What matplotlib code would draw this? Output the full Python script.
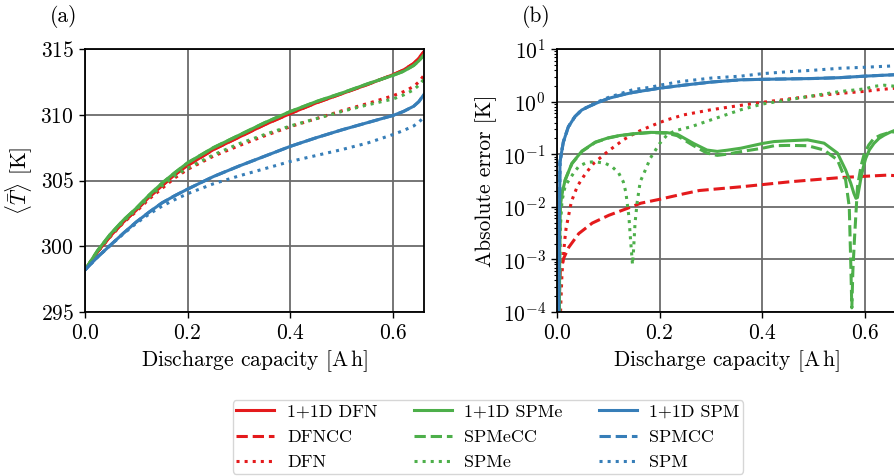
import matplotlib
matplotlib.use("Agg")
import matplotlib.pyplot as plt
from matplotlib.ticker import LogLocator, NullFormatter

plt.rcParams.update({
    "font.family": "serif",
    "font.serif": ["cmr10"],
    "mathtext.fontset": "cm",
    "axes.formatter.use_mathtext": True,
    "font.size": 15.5,
    "axes.unicode_minus": True,
})

RED = "#e41a1c"
GREEN = "#4daf4a"
BLUE = "#377eb8"

# ---- (a) volume-averaged cell temperature [K] ----
cap_a = [0.0, 0.025, 0.05, 0.075, 0.1, 0.125, 0.15, 0.175, 0.2, 0.25, 0.3,
         0.35, 0.4, 0.45, 0.5, 0.55, 0.6, 0.62, 0.64, 0.65, 0.66]
T_dfn11 = [298.2, 299.6, 300.8, 301.85, 302.75, 303.75, 304.6, 305.45, 306.15,
           307.35, 308.3, 309.25, 310.1, 310.9, 311.6, 312.3, 313.05, 313.4,
           313.9, 314.3, 314.8]
T_spme11 = [298.2, 299.7, 300.95, 302.0, 302.9, 303.9, 304.8, 305.6, 306.35,
            307.5, 308.45, 309.4, 310.25, 311.0, 311.65, 312.35, 313.0, 313.3,
            313.75, 314.1, 314.55]
T_spm11 = [298.2, 299.2, 300.1, 301.0, 301.85, 302.6, 303.3, 303.85, 304.35,
           305.3, 306.1, 306.85, 307.6, 308.25, 308.85, 309.4, 309.95, 310.25,
           310.65, 311.0, 311.55]
T_dfn = [298.2, 299.6, 300.75, 301.8, 302.65, 303.6, 304.4, 305.2, 305.85,
         306.85, 307.65, 308.4, 309.1, 309.7, 310.3, 310.85, 311.45, 311.75,
         312.15, 312.5, 313.0]
T_spme = [298.2, 299.65, 300.85, 301.9, 302.8, 303.75, 304.6, 305.35, 305.95,
          306.95, 307.8, 308.5, 309.15, 309.7, 310.25, 310.75, 311.2, 311.5,
          311.9, 312.25, 312.7]
T_spm = [298.2, 299.2, 300.1, 300.95, 301.75, 302.45, 303.05, 303.55, 304.0,
         304.75, 305.35, 305.9, 306.45, 306.9, 307.35, 307.85, 308.5, 308.8,
         309.15, 309.45, 309.8]
# the current-collector models coincide with their 1+1D counterparts here
T_dfncc = T_dfn11
T_spmecc = T_spme11
T_spmcc = T_spm11

# ---- (b) absolute error against 1+1D DFN [K] ----
cap_dfncc = [0.004, 0.005, 0.0065, 0.013, 0.0229, 0.0424, 0.0686, 0.101, 0.134,
             0.163, 0.2, 0.245, 0.277, 0.358, 0.455, 0.553, 0.643, 0.66]
err_dfncc = [5e-5, 0.00025, 0.00063, 0.00105, 0.0017, 0.0031, 0.0049, 0.0069,
             0.0091, 0.0117, 0.0139, 0.0175, 0.0204, 0.024, 0.030, 0.036,
             0.040, 0.039]

cap_dfn = [0.006, 0.0075, 0.0097, 0.015, 0.0177, 0.028, 0.04, 0.052, 0.061,
           0.072, 0.087, 0.1, 0.116, 0.13, 0.145, 0.162, 0.182, 0.2, 0.214,
           0.247, 0.3, 0.358, 0.4, 0.45, 0.5, 0.55, 0.6, 0.63, 0.66]
err_dfn = [5e-5, 0.00015, 0.00054, 0.0023, 0.0039, 0.0126, 0.025, 0.038, 0.05,
           0.068, 0.09, 0.115, 0.15, 0.19, 0.23, 0.28, 0.34, 0.4, 0.45, 0.56,
           0.70, 0.85, 0.97, 1.12, 1.28, 1.43, 1.57, 1.7, 1.8]

cap_spme11 = [0.0045, 0.0055, 0.0065, 0.0097, 0.0162, 0.029, 0.0487, 0.0747,
              0.1, 0.12, 0.149, 0.182, 0.214, 0.234, 0.266, 0.292, 0.312,
              0.331, 0.358, 0.4, 0.423, 0.45, 0.488, 0.52, 0.546, 0.562, 0.572,
              0.578, 0.582, 0.585, 0.588, 0.591, 0.596, 0.601, 0.608, 0.617,
              0.627, 0.637, 0.648, 0.66]
err_spme11 = [5e-5, 0.003, 0.01, 0.018, 0.033, 0.067, 0.115, 0.17, 0.205,
              0.225, 0.245, 0.26, 0.257, 0.24, 0.16, 0.12, 0.113, 0.119, 0.13,
              0.16, 0.174, 0.18, 0.187, 0.162, 0.105, 0.05, 0.028, 0.018,
              0.0145, 0.015, 0.022, 0.032, 0.055, 0.083, 0.12, 0.16, 0.2,
              0.23, 0.26, 0.29]

cap_spmecc = [0.0045, 0.0055, 0.0065, 0.0097, 0.0162, 0.029, 0.0487, 0.0747,
              0.1, 0.12, 0.149, 0.182, 0.214, 0.234, 0.266, 0.292, 0.312,
              0.331, 0.358, 0.4, 0.423, 0.45, 0.488, 0.52, 0.546, 0.562, 0.569,
              0.572, 0.574, 0.576, 0.579, 0.585, 0.592, 0.598, 0.607, 0.617,
              0.63, 0.645, 0.66]
err_spmecc = [5e-5, 0.003, 0.01, 0.018, 0.033, 0.066, 0.113, 0.168, 0.203,
              0.223, 0.243, 0.258, 0.25, 0.225, 0.145, 0.105, 0.095, 0.1,
              0.112, 0.13, 0.145, 0.147, 0.145, 0.12, 0.078, 0.032, 0.01,
              0.0008, 0.00012, 0.0006, 0.0023, 0.024, 0.06, 0.1, 0.15, 0.2,
              0.23, 0.255, 0.27]

cap_spme = [0.005, 0.0065, 0.0097, 0.016, 0.0325, 0.042, 0.058, 0.074, 0.094,
            0.107, 0.12, 0.129, 0.134, 0.14, 0.143, 0.147, 0.149, 0.152,
            0.156, 0.162, 0.172, 0.182, 0.2, 0.214, 0.23, 0.26, 0.3, 0.358,
            0.4, 0.45, 0.5, 0.55, 0.6, 0.617, 0.637, 0.66]
err_spme = [5e-5, 0.004, 0.013, 0.025, 0.044, 0.058, 0.070, 0.072, 0.067,
            0.058, 0.044, 0.03, 0.019, 0.0065, 0.0025, 0.0008, 0.0015, 0.005,
            0.012, 0.03, 0.05, 0.085, 0.16, 0.23, 0.28, 0.33, 0.45, 0.7, 0.9,
            1.08, 1.3, 1.55, 1.75, 1.95, 2.05, 1.95]

cap_spm11 = [0.003, 0.0045, 0.0058, 0.0123, 0.022, 0.035, 0.048, 0.061, 0.0806,
             0.1, 0.126, 0.149, 0.2, 0.25, 0.3, 0.358, 0.4, 0.45, 0.5, 0.55,
             0.6, 0.63, 0.66]
err_spm11 = [5e-5, 0.005, 0.072, 0.17, 0.33, 0.52, 0.69, 0.8, 0.97, 1.15,
             1.34, 1.5, 1.8, 2.07, 2.35, 2.6, 2.65, 2.7, 2.75, 2.85, 3.05,
             3.15, 3.25]
cap_spmcc = cap_spm11
err_spmcc = err_spm11

cap_spm = [0.003, 0.0045, 0.0058, 0.0123, 0.022, 0.035, 0.048, 0.061, 0.0806,
           0.1, 0.126, 0.149, 0.182, 0.2, 0.24, 0.3, 0.358, 0.4, 0.45, 0.5,
           0.55, 0.6, 0.63, 0.66]
err_spm = [5e-5, 0.005, 0.072, 0.17, 0.33, 0.52, 0.69, 0.81, 1.0, 1.2, 1.44,
           1.7, 1.87, 2.05, 2.4, 2.8, 3.05, 3.4, 3.7, 3.95, 4.3, 4.5, 4.65, 4.8]

LW = 2.2

fig = plt.figure(figsize=(8.94, 4.76), dpi=100)
ax_a = fig.add_axes([85 / 894, 1 - 312 / 476, 339 / 894, 263 / 476])
ax_b = fig.add_axes([557 / 894, 1 - 312 / 476, 339 / 894, 263 / 476])

# panel (a)
ax_a.plot(cap_a, T_dfn11, color=RED, ls="-", lw=LW, label="1+1D DFN")
ax_a.plot(cap_a, T_dfncc, color=RED, ls="--", lw=LW, label="DFNCC")
ax_a.plot(cap_a, T_dfn, color=RED, ls=":", lw=LW, label="DFN")
ax_a.plot(cap_a, T_spme11, color=GREEN, ls="-", lw=LW, label="1+1D SPMe")
ax_a.plot(cap_a, T_spmecc, color=GREEN, ls="--", lw=LW, label="SPMeCC")
ax_a.plot(cap_a, T_spme, color=GREEN, ls=":", lw=LW, label="SPMe")
ax_a.plot(cap_a, T_spm11, color=BLUE, ls="-", lw=LW, label="1+1D SPM")
ax_a.plot(cap_a, T_spmcc, color=BLUE, ls="--", lw=LW, label="SPMCC")
ax_a.plot(cap_a, T_spm, color=BLUE, ls=":", lw=LW, label="SPM")
ax_a.set_xlim(0, 0.66)
ax_a.set_ylim(295, 315)
ax_a.set_xticks([0.0, 0.2, 0.4, 0.6])
ax_a.set_yticks([295, 300, 305, 310, 315])
ax_a.set_xlabel(r"Discharge capacity [$\mathrm{A\,h}$]")
ax_a.set_ylabel(r"$\langle \bar{T} \rangle$ [K]")

# panel (b)
ax_b.plot(cap_dfncc, err_dfncc, color=RED, ls="--", lw=LW)
ax_b.plot(cap_dfn, err_dfn, color=RED, ls=":", lw=LW)
ax_b.plot(cap_spme11, err_spme11, color=GREEN, ls="-", lw=LW)
ax_b.plot(cap_spmecc, err_spmecc, color=GREEN, ls="--", lw=LW)
ax_b.plot(cap_spme, err_spme, color=GREEN, ls=":", lw=LW)
ax_b.plot(cap_spmcc, err_spmcc, color=BLUE, ls="--", lw=LW)
ax_b.plot(cap_spm11, err_spm11, color=BLUE, ls="-", lw=LW)
ax_b.plot(cap_spm, err_spm, color=BLUE, ls=":", lw=LW)
ax_b.set_yscale("log")
ax_b.set_xlim(0, 0.66)
ax_b.set_ylim(1e-4, 1e1)
ax_b.set_xticks([0.0, 0.2, 0.4, 0.6])
ax_b.yaxis.set_major_locator(LogLocator(base=10, numticks=10))
ax_b.yaxis.set_minor_locator(LogLocator(base=10, subs=range(2, 10), numticks=20))
ax_b.yaxis.set_minor_formatter(NullFormatter())
ax_b.set_xlabel(r"Discharge capacity [$\mathrm{A\,h}$]")
ax_b.set_ylabel("Absolute error [K]")

for ax in (ax_a, ax_b):
    ax.grid(True, which="major", color="0.42", lw=1.3)
    ax.set_axisbelow(True)
    for sp in ax.spines.values():
        sp.set_linewidth(1.3)
        sp.set_color("black")
    ax.tick_params(which="major", direction="out", length=4, width=1.0,
                   labelsize=15.5, pad=4)
    ax.tick_params(which="minor", direction="out", length=2.5, width=0.8)

fig.text(64 / 894, 1 - 16 / 476, "(a)", ha="center", va="center", fontsize=15.5)
fig.text(536 / 894, 1 - 16 / 476, "(b)", ha="center", va="center", fontsize=15.5)

handles, labels = ax_a.get_legend_handles_labels()
fig.legend(handles, labels, loc="upper center", ncol=3,
           bbox_to_anchor=(488 / 894, 1 - 400 / 476), borderaxespad=0.0,
           fontsize=13, handlelength=2.1, handletextpad=0.7,
           columnspacing=2.0, labelspacing=0.55, frameon=True, fancybox=True,
           edgecolor="0.8", borderpad=0.2)

fig.savefig("out.png", dpi=100)
